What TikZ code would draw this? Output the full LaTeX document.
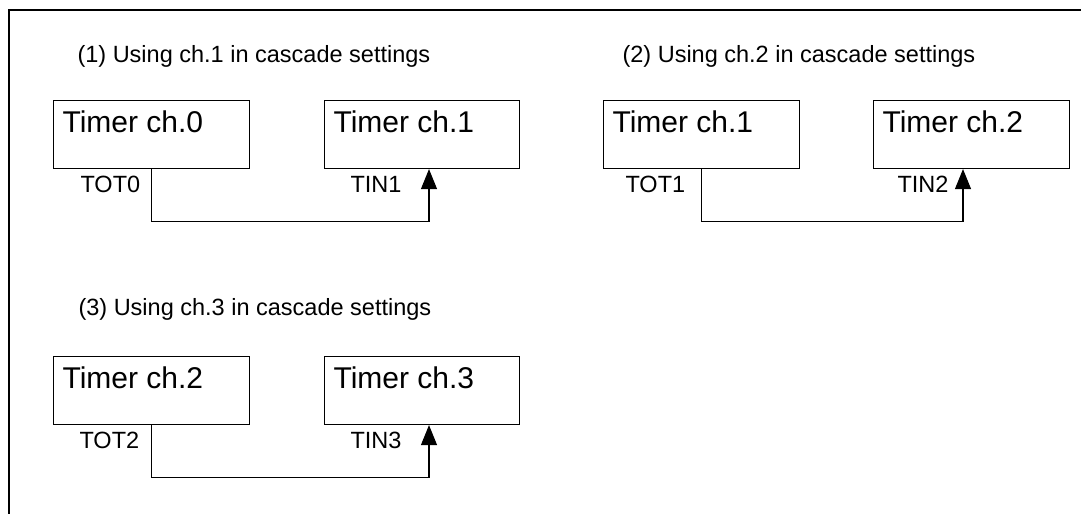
\documentclass[tikz,border=0pt]{standalone}
\usepackage{fontspec}
\setmainfont{Liberation Sans}
\usetikzlibrary{positioning, calc, arrows.meta}

\begin{document}
\begin{tikzpicture}[x=1pt, y=-1pt, line width=1.1pt]

    % Styles for the timer blocks and their texts
    \tikzset{
        timerbox/.style={draw, minimum width=196pt, minimum height=68pt, inner sep=0pt, anchor=north west},
        boxlabel/.style={anchor=base west, inner sep=0pt, font=\fontsize{30}{36}\selectfont},
        pinlabel/.style={anchor=base west, inner sep=0pt, font=\fontsize{23.5}{28}\selectfont},
        cascade/.style={-{Triangle[length=20pt, width=16pt]}}
    }

    \useasboundingbox (0,0) rectangle (1081,514);

    % Frame (only top and left edges are visible)
    \draw (1081,10) -- (9,10) -- (9,514);

    % ==========================================
    % (1) ch.0 -> ch.1
    % ==========================================
    \begin{scope}
        \node[pinlabel] (title1) at (77,62) {(1) Using ch.1 in cascade settings};

        % Blocks
        \node[timerbox] (tmr0) at (53,100) {};
        \node[timerbox, minimum width=195pt] (tmr1) at (324,100) {};
        \node[boxlabel] (tmr0 text) at (62,132) {Timer ch.0};
        \node[boxlabel] (tmr1 text) at (333,132) {Timer ch.1};

        % Pins
        \node[pinlabel] (tot0) at (80,192) {TOT0};
        \node[pinlabel] (tin1) at (350,192) {TIN1};
        \coordinate (tin1 pin) at ([xshift=105pt]tmr1.south west);

        % Connection
        \draw[cascade] (tmr0.south) -- ++(0,52) -| (tin1 pin);
    \end{scope}

    % ==========================================
    % (2) ch.1 -> ch.2
    % ==========================================
    \begin{scope}[shift={(550,0)}]
        \node[pinlabel] (title2) at (72,62) {(2) Using ch.2 in cascade settings};

        % Blocks
        \node[timerbox] (tmr1b) at (53,100) {};
        \node[timerbox] (tmr2) at (323,100) {};
        \node[boxlabel] (tmr1b text) at (62,132) {Timer ch.1};
        \node[boxlabel] (tmr2 text) at (332,132) {Timer ch.2};

        % Pins
        \node[pinlabel] (tot1) at (75,192) {TOT1};
        \node[pinlabel] (tin2) at (347,192) {TIN2};
        \coordinate (tin2 pin) at ([xshift=90pt]tmr2.south west);

        % Connection
        \draw[cascade] (tmr1b.south) -- ++(0,52) -| (tin2 pin);
    \end{scope}

    % ==========================================
    % (3) ch.2 -> ch.3
    % ==========================================
    \begin{scope}[shift={(0,256)}]
        \node[pinlabel] (title3) at (78,59) {(3) Using ch.3 in cascade settings};

        % Blocks
        \node[timerbox] (tmr2b) at (53,100) {};
        \node[timerbox, minimum width=195pt] (tmr3) at (324,100) {};
        \node[boxlabel] (tmr2b text) at (62,132) {Timer ch.2};
        \node[boxlabel] (tmr3 text) at (333,132) {Timer ch.3};

        % Pins
        \node[pinlabel] (tot2) at (79,192) {TOT2};
        \node[pinlabel] (tin3) at (350,192) {TIN3};
        \coordinate (tin3 pin) at ([xshift=105pt]tmr3.south west);

        % Connection
        \draw[cascade] (tmr2b.south) -- ++(0,52) -| (tin3 pin);
    \end{scope}

\end{tikzpicture}
\end{document}
